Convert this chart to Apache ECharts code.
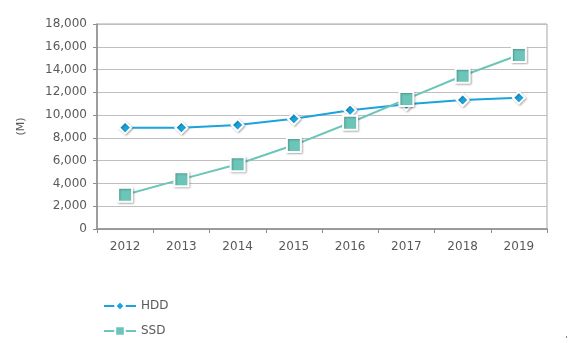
<!DOCTYPE html>
<html><head><meta charset="utf-8">
<script src="https://cdn.jsdelivr.net/npm/echarts@6/dist/echarts.min.js"></script>
<style>html,body{margin:0;padding:0;background:#fff}#c{width:570px;height:343px}</style>
</head><body><div id="c"></div>
<script>
const years = ['2012','2013','2014','2015','2016','2017','2018','2019'];
const hdd = [8900, 8900, 9130, 9680, 10420, 10950, 11330, 11530];
const ssd = [3000, 4360, 5680, 7370, 9330, 11410, 13460, 15280];
const yTicks = {min: 0, max: 18000, interval: 2000};
const unitLabel = '(M)';

const chart = echarts.init(document.getElementById('c'), null, {renderer: 'canvas'});
const font = 'DejaVu Sans';
chart.setOption({
  animation: false,
  backgroundColor: '#fff',
  grid: {left: 97, right: 23, top: 24, bottom: 114, show: true, borderColor: '#a6a6a6', borderWidth: 1, backgroundColor: 'transparent'},
  legend: {
    orient: 'vertical', left: 98, top: 295, itemGap: 13, itemWidth: 32, itemHeight: 12,
    textStyle: {fontFamily: font, fontSize: 12, color: '#595959'},
    data: ['HDD', 'SSD']
  },
  xAxis: {
    type: 'category', data: years, boundaryGap: true,
    axisLine: {lineStyle: {color: '#8c8c8c', width: 1.5}},
    axisTick: {show: true, alignWithLabel: false, length: 4, lineStyle: {color: '#8c8c8c'}},
    axisLabel: {fontFamily: font, fontSize: 12, color: '#595959', margin: 12},
    splitLine: {show: false}
  },
  yAxis: {
    type: 'value', min: yTicks.min, max: yTicks.max, interval: yTicks.interval,
    name: unitLabel, nameLocation: 'middle', nameRotate: 90, nameGap: 70,
    nameTextStyle: {fontFamily: font, fontSize: 11, color: '#595959'},
    axisLine: {show: true, lineStyle: {color: '#8c8c8c', width: 1.5}},
    axisTick: {show: true, length: 4, lineStyle: {color: '#8c8c8c'}},
    axisLabel: {fontFamily: font, fontSize: 12, color: '#595959', margin: 10,
      formatter: v => v.toLocaleString('en-US')},
    splitLine: {lineStyle: {color: '#bfbfbf', width: 1}}
  },
  series: [
    {name: 'HDD', type: 'line', data: hdd, symbol: 'diamond', symbolSize: 12,
     lineStyle: {color: '#1aa3dc', width: 2},
     itemStyle: {color: '#1aa3dc', borderColor: '#fff', borderWidth: 2, shadowColor: 'rgba(0,0,0,0.25)', shadowBlur: 2, shadowOffsetX: 1, shadowOffsetY: 1},
     z: 3},
    {name: 'SSD', type: 'line', data: ssd, symbol: 'rect', symbolSize: 14,
     lineStyle: {color: '#6cc5b9', width: 2},
     itemStyle: {color: '#6cc5b9', borderColor: '#fff', borderWidth: 2, shadowColor: 'rgba(0,0,0,0.25)', shadowBlur: 2, shadowOffsetX: 1, shadowOffsetY: 1},
     z: 4}
  ],
  graphic: [{type: 'rect', left: 566, top: 336, shape: {width: 1, height: 2}, style: {fill: '#888'}}]
});
</script></body></html>
